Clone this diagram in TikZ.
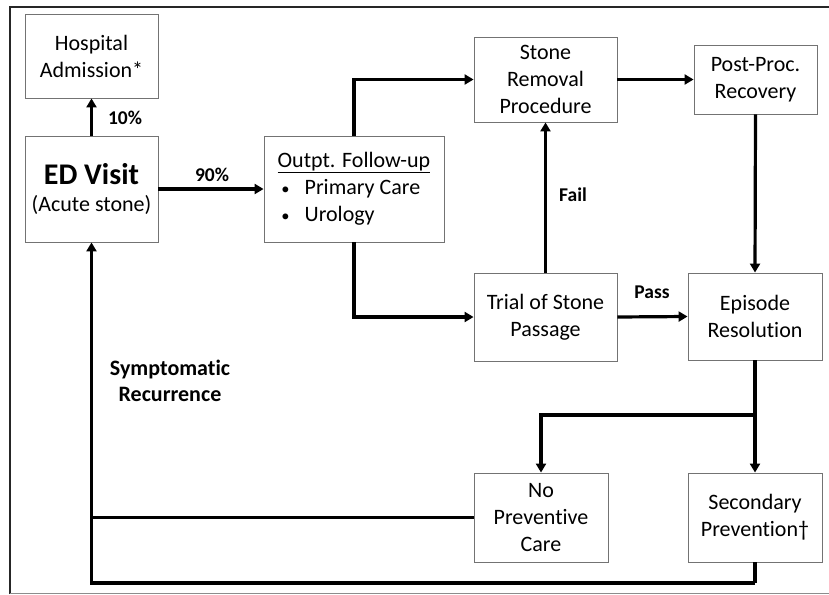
\documentclass[tikz,border=0pt]{standalone}
\usepackage{fontspec}
\setmainfont{Carlito}[Ligatures=NoCommon]
\usetikzlibrary{arrows.meta}

\begin{document}
\begin{tikzpicture}[x=1pt, y=-1pt,
  box/.style={draw=black!55, line width=0.9pt, fill=white, align=center, inner sep=2pt,
    font=\fontsize{22}{27}\selectfont},
  flow/.style={line width=3.2pt, -{Triangle[length=9pt, width=10pt]}},
  link/.style={line width=3.2pt},
  lbl/.style={font=\fontsize{19.5}{24}\selectfont\bfseries}]
\useasboundingbox (0,0) rectangle (829,594);
\draw[line width=2pt, black!85] (10,594) -- (10,7) -- (840,7);
\draw[line width=1pt, black!45] (10,593) -- (840,593);

\node[box, minimum width=133pt, minimum height=84pt] (hosp) at (91.5,56) {Hospital\\Admission*};
\node[box, minimum width=133pt, minimum height=106pt] (ed) at (91.5,189) {{\fontsize{30}{33}\selectfont\bfseries ED Visit}\\(Acute stone)};
\node[box, minimum width=180pt, minimum height=106pt, align=left] (outpt) at (354,189) {\underline{Outpt. Follow-up}\\\makebox[27pt][l]{\,\scalebox{0.75}{\textbullet}}Primary Care\\\makebox[27pt][l]{\,\scalebox{0.75}{\textbullet}}Urology};
\node[box, minimum width=143pt, minimum height=85pt] (removal) at (545.5,79.5) {Stone\\Removal\\Procedure};
\node[box, minimum width=123pt, minimum height=69pt] (recovery) at (755.5,79.5) {Post-Proc.\\Recovery};
\node[box, minimum width=143pt, minimum height=88pt] (trial) at (545.5,317) {Trial of Stone\\Passage};
\node[box, minimum width=134pt, minimum height=87pt] (resolution) at (755,316.5) {Episode\\Resolution};
\node[box, minimum width=134pt, minimum height=89pt] (noprev) at (541,517.5) {No\\Preventive\\Care};
\node[box, minimum width=134pt, minimum height=89pt] (secprev) at (755,517.5) {Secondary\\Prevention\textdagger};

\coordinate (split) at (755,415);
\coordinate (loopb) at (755,583);

\draw[flow] (ed.north) -- (hosp.south);
\draw[flow] (ed.east) -- (outpt.west);
\draw[flow] (outpt.north) |- (removal.west);
\draw[flow] (outpt.south) |- (trial.west);
\draw[flow] (trial.north) -- (removal.south);
\draw[flow] (removal.east) -- (recovery.west);
\draw[flow] (recovery.south) -- (resolution.north);
\draw[flow] (trial.east) -- (resolution.west);
\draw[link] (resolution.south) -- (split);
\draw[flow] (split) -| (noprev.north);
\draw[flow] (split) -- (secprev.north);
\draw[link] (noprev.west) -- (ed.south |- noprev.west);
\draw[link] (secprev.south) -- (loopb);
\draw[flow] (loopb) -| (ed.south);

\node[lbl] (pct10) at (125,118) {10\%};
\node[lbl] (pct90) at (212,175) {90\%};
\node[lbl] (fail) at (573,195) {Fail};
\node[lbl] (pass) at (652,292) {Pass};
\node[lbl, font=\fontsize{22}{26}\selectfont\bfseries, align=center] (recur) at (170,381) {Symptomatic\\Recurrence};
\end{tikzpicture}
\end{document}
